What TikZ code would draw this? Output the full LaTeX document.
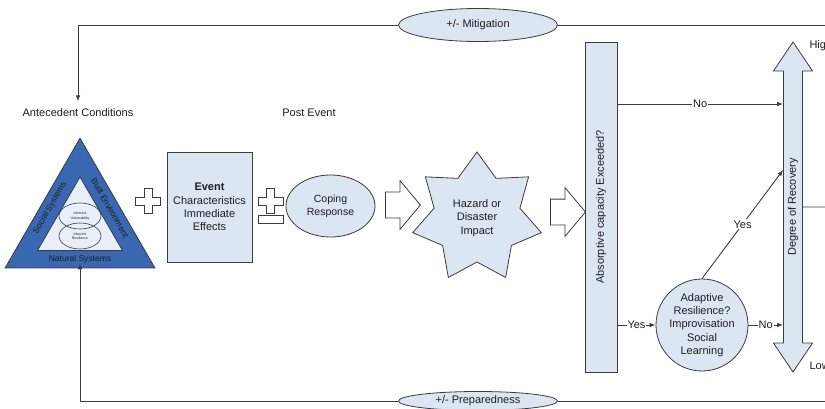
\documentclass[tikz,border=0pt]{standalone}
\usepackage{fontspec}
\setmainfont{Liberation Sans}
\usetikzlibrary{positioning}
\usetikzlibrary{arrows.meta}
\usetikzlibrary{shapes.geometric}
\usetikzlibrary{shapes.arrows}

\definecolor{boxfill}{HTML}{DCE6F2}
\definecolor{triblue}{HTML}{3A67B1}
\definecolor{trifill}{HTML}{E9EFF8}
\definecolor{linegray}{HTML}{3C3C3C}
\definecolor{textgray}{HTML}{1E1E1E}

\tikzset{
    conn/.style={draw=linegray, line width=0.9pt, -{Latex[length=6pt,width=4.5pt]}},
    link/.style={draw=linegray, line width=0.9pt},
    lbl/.style={fill=white, inner sep=1pt},
    shapebox/.style={draw=linegray, line width=0.8pt, fill=boxfill, align=center},
    blockarrow/.style={single arrow, draw=linegray, line width=0.8pt, fill=white, inner xsep=0pt, inner ysep=12.5pt, minimum height=35pt, single arrow head extend=11.5pt, single arrow tip angle=100},
    signshape/.style={draw=linegray, line width=0.8pt, fill=white},
    trilabel/.style={font=\fontsize{8.5}{10}\selectfont, inner sep=0pt},
    tinylabel/.style={ellipse, draw=linegray, line width=0.6pt, minimum width=42pt, minimum height=26pt, inner sep=0pt, align=center, font=\fontsize{3.5}{4.2}\selectfont}
}

\begin{document}
\begin{tikzpicture}[x=1pt, y=1pt, font=\fontsize{11}{13.3}\selectfont, text=textgray]
    \useasboundingbox (0,0) rectangle (825,-409);

    \node (mitig) [ellipse, minimum width=159pt, minimum height=33pt, shapebox] at (478,-25) {+/- Mitigation};
    \node (prep) [ellipse, minimum width=159pt, minimum height=19pt, inner sep=0pt, shapebox] at (478,-401) {+/- Preparedness};

    \node (antec) at (78,-113) {Antecedent Conditions};
    \node (postev) at (309,-113) {Post Event};

    \node (outertri) [regular polygon, regular polygon sides=3, minimum size=173pt, inner sep=0pt, draw=linegray, line width=0.8pt, fill=triblue] at (80,-224.7) {};
    \node (innertri) [regular polygon, regular polygon sides=3, minimum size=98pt, inner sep=0pt, draw=linegray, line width=0.8pt, fill=trifill] at (80,-226) {};
    \node (natsys) [trilabel] at (80,-259) {Natural Systems};
    \node (socsys) [trilabel, rotate=60] at (50,-208) {Social Systems};
    \node (builtenv) [trilabel, rotate=-60] at (110,-208) {Built Environment};
    \node (vuln) [tinylabel] at (80,-216) {Inherent\\Vulnerability};
    \node (resil) [tinylabel] at (80,-236) {Inherent\\Resilience};

    \foreach \cx/\cy in {148/201, 270.5/201} {
        \draw [signshape] (\cx,-\cy) ++(-4,12.5) -- ++(8,0) -- ++(0,-8.5) -- ++(8.5,0) -- ++(0,-8) -- ++(-8.5,0) -- ++(0,-8.5) -- ++(-8,0) -- ++(0,8.5) -- ++(-8.5,0) -- ++(0,8) -- ++(8.5,0) -- cycle;
    }
    \draw [signshape] (258,-215) rectangle (283,-223);

    \node (event) [rectangle, minimum width=85pt, minimum height=110pt, shapebox] at (209.5,-207) {\textbf{Event}\\Characteristics\\Immediate\\Effects};
    \node (coping) [ellipse, minimum width=89pt, minimum height=62pt, inner sep=0pt, shapebox, font=\fontsize{10.5}{13}\selectfont] at (330.5,-206) {Coping\\Response};
    \node (push1) [blockarrow] at (397.5,-205) {};
    \node (hazard) [star, star points=7, star point ratio=1.5, minimum size=132pt, inner sep=0pt, shapebox] at (477,-218) {Hazard or\\Disaster\\Impact};
    \node (push2) [blockarrow] at (562.5,-212) {};

    \node (absorb) [rectangle, minimum width=330pt, minimum height=32pt, rotate=90, shapebox] at (601,-207) {Absorptive capacity Exceeded?};
    \node (recov) [double arrow, rotate=90, minimum height=330pt, inner xsep=0pt, inner ysep=4pt, double arrow head extend=10pt, double arrow tip angle=68, shapebox] at (793,-207) {Degree of Recovery};
    \node (adapt) [circle, minimum size=92pt, inner sep=0pt, shapebox] at (702,-325) {Adaptive\\Resilience?\\Improvisation\\Social\\Learning};

    \node (high) [anchor=west] at (806,-46) {High};
    \node (low) [anchor=west] at (806,-366) {Low};

    \coordinate (mitR) at (825,-25);
    \coordinate (prepR) at (825,-401);
    \coordinate (stubR) at (825,-207);
    \coordinate (noY) at (0,-104);
    \coordinate (yesY) at (0,-170);

    \draw [link] (mitR) -- (mitig);
    \draw [conn, shorten >=4pt] (mitig) -| (antec);
    \draw [link] (prepR) -- (prep);
    \draw [conn, shorten >=-5pt] (prep) -| (outertri.south);

    \draw [conn] (absorb.south |- noY) -- node [lbl] {No} (recov.north |- noY);
    \draw [conn] (absorb.south |- adapt) -- node [lbl] {Yes} (adapt);
    \draw [conn] (adapt) -- node [lbl] {No} (recov.north |- adapt);
    \draw [conn] (adapt.north) -- node [lbl] {Yes} (recov.north |- yesY);
    \draw [link] (recov.south) -- (stubR);
\end{tikzpicture}
\end{document}
